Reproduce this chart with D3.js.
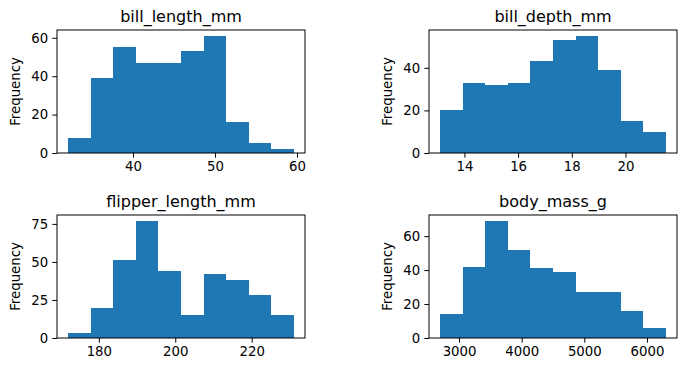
<!DOCTYPE html>
<html>
<head>
<meta charset="utf-8">
<script src="https://cdn.jsdelivr.net/npm/d3@7"></script>
<style>
  body { margin: 0; background: #fff; }
  svg { display: block; font-family: "DejaVu Sans", sans-serif; }
</style>
</head>
<body>
<div class="hist-grid"></div>
<script>
// penguins columns, 10 bins each (bin edges + counts)
const billLengthEdges = [32.1, 34.85, 37.6, 40.35, 43.1, 45.85, 48.6, 51.35, 54.1, 56.85, 59.6];
const billLengthCounts = [8, 39, 55, 47, 47, 53, 61, 16, 5, 2];
const billLengthXTicks = [40, 50, 60];
const billLengthYTicks = [0, 20, 40, 60];

const billDepthEdges = [13.1, 13.94, 14.78, 15.62, 16.46, 17.3, 18.14, 18.98, 19.82, 20.66, 21.5];
const billDepthCounts = [20, 33, 32, 33, 43, 53, 55, 39, 15, 10];
const billDepthXTicks = [14, 16, 18, 20];
const billDepthYTicks = [0, 20, 40];

const flipperEdges = [172, 177.9, 183.8, 189.7, 195.6, 201.5, 207.4, 213.3, 219.2, 225.1, 231];
const flipperCounts = [3, 20, 51, 77, 44, 15, 42, 38, 28, 15];
const flipperXTicks = [180, 200, 220];
const flipperYTicks = [0, 25, 50, 75];

const bodyMassEdges = [2700, 3060, 3420, 3780, 4140, 4500, 4860, 5220, 5580, 5940, 6300];
const bodyMassCounts = [14, 42, 69, 52, 41, 39, 27, 27, 16, 6];
const bodyMassXTicks = [3000, 4000, 5000, 6000];
const bodyMassYTicks = [0, 20, 40, 60];

const titles = ["bill_length_mm", "bill_depth_mm", "flipper_length_mm", "body_mass_g"];

const panels = [
	{title: titles[0], edges: billLengthEdges, counts: billLengthCounts, xt: billLengthXTicks, yt: billLengthYTicks, left: 57, top: 30},
	{title: titles[1], edges: billDepthEdges, counts: billDepthCounts, xt: billDepthXTicks, yt: billDepthYTicks, left: 429, top: 30},
	{title: titles[2], edges: flipperEdges, counts: flipperCounts, xt: flipperXTicks, yt: flipperYTicks, left: 57, top: 215},
	{title: titles[3], edges: bodyMassEdges, counts: bodyMassCounts, xt: bodyMassXTicks, yt: bodyMassYTicks, left: 429, top: 215}
];

const width = 687;
const height = 372;
const pw = 248;
const ph = 123;
const tick = 4.7;
const fs = 13.3;

const svg = d3.select('.hist-grid')
	.append('svg')
	.attr('width', width)
	.attr('height', height);

panels.forEach(function(p) {
	const lo = p.edges[0], hi = p.edges[p.edges.length - 1];
	const pad = (hi - lo) * 0.05;
	const x = d3.scaleLinear().domain([lo - pad, hi + pad]).range([0, pw]);
	const y = d3.scaleLinear().domain([0, d3.max(p.counts) * 1.05]).range([ph, 0]);

	const g = svg.append('g').attr('transform', 'translate(' + p.left + ',' + p.top + ')');

	const bins = p.counts.map(function(c, i) {
		return {x0: p.edges[i], x1: p.edges[i + 1], n: c};
	});

	g.selectAll('rect.bar')
		.data(bins)
		.enter()
		.append('rect')
		.attr('class', 'bar')
		.attr('x', function(d) { return x(d.x0); })
		.attr('width', function(d) { return x(d.x1) - x(d.x0); })
		.attr('y', function(d) { return y(d.n); })
		.attr('height', function(d) { return ph - y(d.n); })
		.attr('fill', '#1f77b4')
		.attr('shape-rendering', 'crispEdges');

	const xAxis = g.append('g')
		.attr('transform', 'translate(0,' + ph + ')')
		.call(d3.axisBottom(x).tickValues(p.xt).tickSize(tick).tickPadding(4.2).tickFormat(d3.format('d')));
	const yAxis = g.append('g')
		.call(d3.axisLeft(y).tickValues(p.yt).tickSize(tick).tickPadding(4.2).tickFormat(d3.format('d')));

	[xAxis, yAxis].forEach(function(a) {
		a.select('.domain').remove();
		a.attr('font-family', '"DejaVu Sans", sans-serif').attr('font-size', fs);
		a.selectAll('line').attr('stroke', '#000').attr('stroke-width', 1);
		a.selectAll('text').attr('fill', '#000');
	});

	g.append('rect')
		.attr('x', 0)
		.attr('y', 0)
		.attr('width', pw)
		.attr('height', ph)
		.attr('fill', 'none')
		.attr('stroke', '#000')
		.attr('stroke-width', 1);

	g.append('text')
		.text(p.title)
		.attr('x', pw / 2)
		.attr('y', -8.5)
		.attr('text-anchor', 'middle')
		.attr('font-size', 16)
		.attr('fill', '#000');

	g.append('text')
		.text('Frequency')
		.attr('transform', 'translate(-37,' + (ph / 2) + ') rotate(-90)')
		.attr('text-anchor', 'middle')
		.attr('font-size', fs)
		.attr('fill', '#000');
});
</script>
</body>
</html>
